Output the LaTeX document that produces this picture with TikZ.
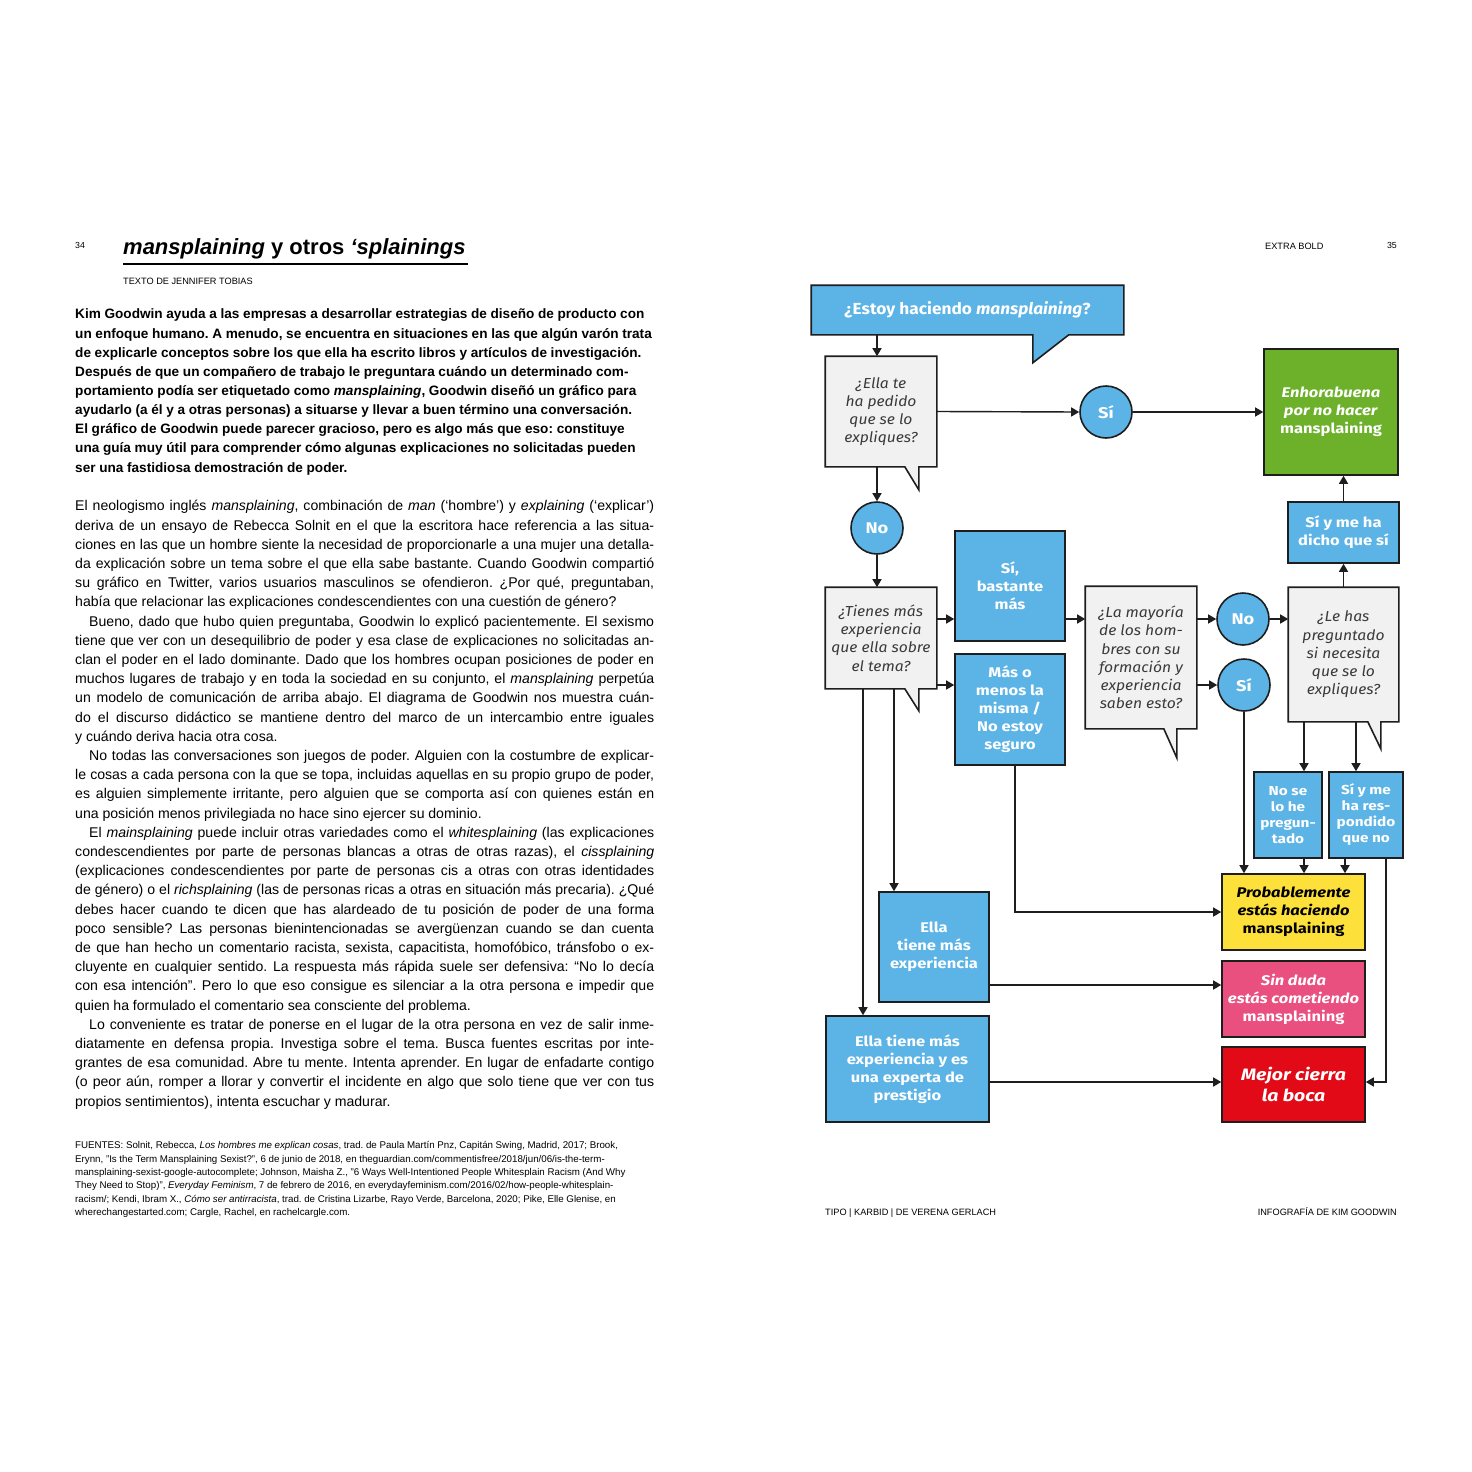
\documentclass[tikz,border=0pt]{standalone}
\usepackage{fontspec}
\setmainfont{Liberation Sans}
\newfontfamily\diagfont[FakeStretch=1.18]{Fira Sans}
\newfontfamily\qfont[FakeStretch=1.08]{Fira Sans}
\usetikzlibrary{arrows.meta,calc}
\pgfdeclarelayer{bottom}
\pgfdeclarelayer{bg}
\pgfsetlayers{bottom,bg,main}
\definecolor{cblue}{HTML}{5CB3E6}
\definecolor{cgreen}{HTML}{6DB12B}
\definecolor{cyellow}{HTML}{FDE03A}
\definecolor{cpink}{HTML}{E94F7F}
\definecolor{cred}{HTML}{E20A17}
\definecolor{cgray}{HTML}{F1F1F1}
\definecolor{ctext}{HTML}{3A3A3A}
\definecolor{cline}{HTML}{1E1E1E}
\newcommand\bodyj[1]{\par\noindent\hbox to 579pt{\spaceskip=0.27em plus 0.4em minus 0.12em\strut #1}\par}
\newcommand\bodyl[1]{\par\noindent\hbox{\spaceskip=0.27em\strut #1}\par}
\begin{document}
\begin{tikzpicture}[x=1pt,y=-1pt,
  dbox/.style={rectangle, inner sep=0pt, outer sep=0.8pt, align=center, draw=cline, line width=1.6pt, text=white,
    font=\diagfont\bfseries\fontsize{14}{18}\selectfont},
  bluebox/.style={dbox, fill=cblue},
  qtext/.style={rectangle, inner sep=0pt, outer sep=0.8pt, align=center, text=ctext,
    font=\qfont\itshape\fontsize{14.5}{18.2}\selectfont},
  bubble/.style={fill=cgray, draw=cline, line width=1.6pt, line join=miter},
  circ/.style={circle, minimum size=52pt, inner sep=0pt, outer sep=0.8pt, fill=cblue, draw=cline, line width=1.6pt,
    text=white, font=\diagfont\bfseries\fontsize{15.5}{18}\selectfont},
  arr/.style={line width=1.4pt, draw=cline, -{Triangle[length=8pt,width=9pt]}},
  small/.style={font=\fontsize{9.2}{10}\selectfont, inner sep=0pt}
]
\begin{pgfonlayer}{bottom}
\fill[white] (0,0) rectangle (1472,1472);
\end{pgfonlayer}
\useasboundingbox (0,0) rectangle (1472,1472);

% ---------- left page ----------
\node[small, font=\fontsize{8.8}{10}\selectfont, anchor=base west] (pg34) at (75,248) {34};
\node[anchor=base west, inner sep=0pt, font=\bfseries\fontsize{22}{24}\selectfont] (ptitle) at (123,254)
  {\textit{mansplaining} y otros \textit{‘splainings}};
\draw[line width=1.3pt] ($(ptitle.base west)+(0,10)$) -- ($(ptitle.base east)+(2,10)$);
\node[small, anchor=base west] (author) at (123,284.5) {TEXTO DE JENNIFER TOBIAS};

\node[anchor=north west, inner sep=0pt, text width=620pt, font=\bfseries\fontsize{13.6}{19.15}\selectfont] (intro) at (75,299.5) {\parskip=0pt\frenchspacing
\bodyl{Kim Goodwin ayuda a las empresas a desarrollar estrategias de diseño de producto con}
\bodyl{un enfoque humano. A menudo, se encuentra en situaciones en las que algún varón trata}
\bodyl{de explicarle conceptos sobre los que ella ha escrito libros y artículos de investigación.}
\bodyl{Después de que un compañero de trabajo le preguntara cuándo un determinado com-}
\bodyl{portamiento podía ser etiquetado como \textit{mansplaining}, Goodwin diseñó un gráfico para}
\bodyl{ayudarlo (a él y a otras personas) a situarse y llevar a buen término una conversación.}
\bodyl{El gráfico de Goodwin puede parecer gracioso, pero es algo más que eso: constituye}
\bodyl{una guía muy útil para comprender cómo algunas explicaciones no solicitadas pueden}
\bodyl{ser una fastidiosa demostración de poder.}};

\node[anchor=north west, inner sep=0pt, text width=579pt, font=\fontsize{14.1}{19.2}\selectfont] (body) at (75,491.5) {\parskip=0pt\frenchspacing
\bodyj{El neologismo inglés \textit{mansplaining}, combinación de \textit{man} (‘hombre’) y \textit{explaining} (‘explicar’)}
\bodyj{deriva de un ensayo de Rebecca Solnit en el que la escritora hace referencia a las situa-}
\bodyj{ciones en las que un hombre siente la necesidad de proporcionarle a una mujer una detalla-}
\bodyj{da explicación sobre un tema sobre el que ella sabe bastante. Cuando Goodwin compartió}
\bodyj{su gráfico en Twitter, varios usuarios masculinos se ofendieron. ¿Por qué, preguntaban,}
\bodyl{había que relacionar las explicaciones condescendientes con una cuestión de género?}
\bodyj{\hspace*{14pt}Bueno, dado que hubo quien preguntaba, Goodwin lo explicó pacientemente. El sexismo}
\bodyj{tiene que ver con un desequilibrio de poder y esa clase de explicaciones no solicitadas an-}
\bodyj{clan el poder en el lado dominante. Dado que los hombres ocupan posiciones de poder en}
\bodyj{muchos lugares de trabajo y en toda la sociedad en su conjunto, el \textit{mansplaining} perpetúa}
\bodyj{un modelo de comunicación de arriba abajo. El diagrama de Goodwin nos muestra cuán-}
\bodyj{do el discurso didáctico se mantiene dentro del marco de un intercambio entre iguales}
\bodyl{y cuándo deriva hacia otra cosa.}
\bodyj{\hspace*{14pt}No todas las conversaciones son juegos de poder. Alguien con la costumbre de explicar-}
\bodyj{le cosas a cada persona con la que se topa, incluidas aquellas en su propio grupo de poder,}
\bodyj{es alguien simplemente irritante, pero alguien que se comporta así con quienes están en}
\bodyl{una posición menos privilegiada no hace sino ejercer su dominio.}
\bodyj{\hspace*{14pt}El \textit{mainsplaining} puede incluir otras variedades como el \textit{whitesplaining} (las explicaciones}
\bodyj{condescendientes por parte de personas blancas a otras de otras razas), el \textit{cissplaining}}
\bodyj{(explicaciones condescendientes por parte de personas cis a otras con otras identidades}
\bodyj{de género) o el \textit{richsplaining} (las de personas ricas a otras en situación más precaria). ¿Qué}
\bodyj{debes hacer cuando te dicen que has alardeado de tu posición de poder de una forma}
\bodyj{poco sensible? Las personas bienintencionadas se avergüenzan cuando se dan cuenta}
\bodyj{de que han hecho un comentario racista, sexista, capacitista, homofóbico, tránsfobo o ex-}
\bodyj{cluyente en cualquier sentido. La respuesta más rápida suele ser defensiva: “No lo decía}
\bodyj{con esa intención”. Pero lo que eso consigue es silenciar a la otra persona e impedir que}
\bodyl{quien ha formulado el comentario sea consciente del problema.}
\bodyj{\hspace*{14pt}Lo conveniente es tratar de ponerse en el lugar de la otra persona en vez de salir inme-}
\bodyj{diatamente en defensa propia. Investiga sobre el tema. Busca fuentes escritas por inte-}
\bodyj{grantes de esa comunidad. Abre tu mente. Intenta aprender. En lugar de enfadarte contigo}
\bodyj{(o peor aún, romper a llorar y convertir el incidente en algo que solo tiene que ver con tus}
\bodyl{propios sentimientos), intenta escuchar y madurar.}};

\node[anchor=north west, inner sep=0pt, text width=620pt, font=\fontsize{9.75}{13.4}\selectfont] (sources) at (75,1135) {\parskip=0pt\frenchspacing
\bodyl{FUENTES: Solnit, Rebecca, \textit{Los hombres me explican cosas}, trad. de Paula Martín Pnz, Capitán Swing, Madrid, 2017; Brook,}
\bodyl{Erynn, "Is the Term Mansplaining Sexist?", 6 de junio de 2018, en theguardian.com/commentisfree/2018/jun/06/is-the-term-}
\bodyl{mansplaining-sexist-google-autocomplete; Johnson, Maisha Z., "6 Ways Well-Intentioned People Whitesplain Racism (And Why}
\bodyl{They Need to Stop)", \textit{Everyday Feminism}, 7 de febrero de 2016, en everydayfeminism.com/2016/02/how-people-whitesplain-}
\bodyl{racism/; Kendi, Ibram X., \textit{Cómo ser antirracista}, trad. de Cristina Lizarbe, Rayo Verde, Barcelona, 2020; Pike, Elle Glenise, en}
\bodyl{wherechangestarted.com; Cargle, Rachel, en rachelcargle.com.}};

% ---------- right page headers ----------
\node[small, anchor=base west] (xbold) at (1265,249) {EXTRA BOLD};
\node[small, font=\fontsize{8.8}{10}\selectfont, anchor=base east] (pg35) at (1397,248) {35};
\node[small, anchor=base west] (tipo) at (825,1215) {TIPO | KARBID | DE VERENA GERLACH};
\node[small, anchor=base east] (info) at (1397,1215) {INFOGRAFÍA DE KIM GOODWIN};

% ---------- diagram nodes ----------
\node[rectangle, inner sep=0pt, outer sep=0.8pt, minimum width=311pt, minimum height=48pt, text=white,
  font=\qfont\bfseries\fontsize{16}{18}\selectfont] (qstart) at (967.5,310) {¿Estoy haciendo \textit{mansplaining}?};
\node[qtext, minimum width=110pt, minimum height=109pt] (q1) at (881,411.5) {¿Ella te\\ha pedido\\que se lo\\expliques?};
\node[circ] (si1) at (1106,412) {Sí};
\node[dbox, fill=cgreen, minimum width=134pt, minimum height=126pt] (green) at (1331,412)
  {\textit{Enhorabuena}\\\textit{por no hacer}\\mansplaining};
\node[circ] (no1) at (877,528) {No};
\node[qtext, minimum width=110pt, minimum height=100pt] (q2) at (881,638) {¿Tienes más\\experiencia\\que ella sobre\\el tema?};
\node[bluebox, minimum width=110pt, minimum height=110pt] (sib) at (1010,586) {Sí,\\bastante\\más};
\node[bluebox, minimum width=110pt, minimum height=111pt] (mas) at (1010,709.5) {Más o\\menos la\\misma /\\No estoy\\seguro};
\node[qtext, minimum width=110pt, minimum height=141pt] (q3) at (1141,657.5)
  {¿La mayoría\\de los hom-\\bres con su\\formación y\\experiencia\\saben esto?};
\node[circ] (no2) at (1243,619) {No};
\node[circ] (si2) at (1244,685) {Sí};
\node[qtext, minimum width=109pt, minimum height=133pt] (q4) at (1343.5,654.5)
  {¿Le has\\preguntado\\si necesita\\que se lo\\expliques?};
\node[bluebox, minimum width=111pt, minimum height=61pt] (siy) at (1343.5,532.5) {Sí y me ha\\dicho que sí};
\node[bluebox, minimum width=68pt, minimum height=86pt, font=\diagfont\bfseries\fontsize{13}{16}\selectfont] (nose) at (1288,815)
  {No se\\lo he\\pregun-\\tado};
\node[bluebox, minimum width=74pt, minimum height=86pt, font=\diagfont\bfseries\fontsize{13}{16}\selectfont] (siyno) at (1366,815)
  {Sí y me\\ha res-\\pondido\\que no};
\node[dbox, fill=cyellow, text=black, minimum width=143pt, minimum height=76pt] (yellow) at (1293.5,912)
  {\textit{Probablemente}\\\textit{estás haciendo}\\mansplaining};
\node[dbox, fill=cpink, minimum width=143pt, minimum height=76pt] (pink) at (1293.5,999)
  {\textit{Sin duda}\\\textit{estás cometiendo}\\mansplaining};
\node[dbox, fill=cred, minimum width=143pt, minimum height=75pt, font=\diagfont\bfseries\itshape\fontsize{16.5}{21}\selectfont] (red) at (1293.5,1084.5)
  {Mejor cierra\\la boca};
\node[bluebox, minimum width=110pt, minimum height=110pt] (ella) at (934,947) {Ella\\tiene más\\experiencia};
\node[bluebox, minimum width=163pt, minimum height=106pt] (prest) at (907.5,1069)
  {Ella tiene más\\experiencia y es\\una experta de\\prestigio};

% ---------- speech bubbles ----------
\begin{pgfonlayer}{bg}
\draw[bubble, fill=cblue] (qstart.north west) -- (qstart.north east) -- (qstart.south east)
  -- ($(qstart.south east)+(-55,0)$) -- ($(qstart.south east)+(-91,28)$) -- ($(qstart.south east)+(-91,0)$)
  -- (qstart.south west) -- cycle;
\draw[bubble] (q1.north west) -- (q1.north east) -- (q1.south east) -- ($(q1.south east)+(-18,0)$)
  -- ++(0,23) -- ($(q1.south east)+(-32,0)$) -- (q1.south west) -- cycle;
\draw[bubble] (q2.north west) -- (q2.north east) -- (q2.south east) -- ($(q2.south east)+(-18,0)$)
  -- ++(0,22) -- ($(q2.south east)+(-32,0)$) -- (q2.south west) -- cycle;
\draw[bubble] (q3.north west) -- (q3.north east) -- (q3.south east) -- ($(q3.south east)+(-20,0)$)
  -- ++(0,29) -- ($(q3.south east)+(-33,0)$) -- (q3.south west) -- cycle;
\draw[bubble] (q4.north west) -- (q4.north east) -- (q4.south east) -- ($(q4.south east)+(-18,0)$)
  -- ++(0,27) -- ($(q4.south east)+(-31,0)$) -- (q4.south west) -- cycle;
\end{pgfonlayer}

% ---------- connectors ----------
\coordinate (xA) at (877,0);
\coordinate (xB) at (1304,0);
\coordinate (xC) at (1356,0);
\coordinate (xD) at (1345,0);
\coordinate (xE) at (1386,0);
\coordinate (xF) at (1015,0);
\coordinate (xG) at (863,0);
\coordinate (xH) at (894,0);
\coordinate (yA) at (0,985);
\coordinate (yB) at (0,1082);

\draw[arr] (qstart.south -| xA) -- (q1.north -| xA);
\draw[arr] (q1.east) -- (si1.west);
\draw[arr] (si1.east) -- (green.west);
\draw[arr] (q1.south -| xA) -- (no1.north);
\draw[arr] (no1.south) -- (q2.north -| xA);
\draw[arr] (q2.east |- no2) -- (sib.west |- no2);
\draw[arr] (q2.east |- si2) -- (mas.west |- si2);
\draw[arr] (sib.east |- no2) -- (q3.west |- no2);
\draw[arr] (q3.east |- no2) -- (no2.west);
\draw[arr] (q3.east |- si2) -- (si2.west);
\draw[arr] (no2.east) -- (q4.west |- no2);
\draw[arr] (q4.north -| siy) -- (siy.south);
\draw[arr] (siy.north) -- (green.south -| siy);
\draw[arr] (si2.south) -- (yellow.north -| si2);
\draw[arr] (q4.south -| xB) -- (nose.north -| xB);
\draw[arr] (q4.south -| xC) -- (siyno.north -| xC);
\draw[arr] (nose.south -| xB) -- (yellow.north -| xB);
\draw[arr] (siyno.south -| xD) -- (yellow.north -| xD);
\draw[arr] (siyno.south -| xE) |- (red.east |- yB);
\draw[arr] (mas.south -| xF) |- (yellow.west);
\draw[arr] (q2.south -| xG) -- (prest.north -| xG);
\draw[arr] (q2.south -| xH) -- (ella.north -| xH);
\draw[arr] (ella.east |- yA) -- (pink.west |- yA);
\draw[arr] (prest.east |- yB) -- (red.west |- yB);
\end{tikzpicture}
\end{document}
